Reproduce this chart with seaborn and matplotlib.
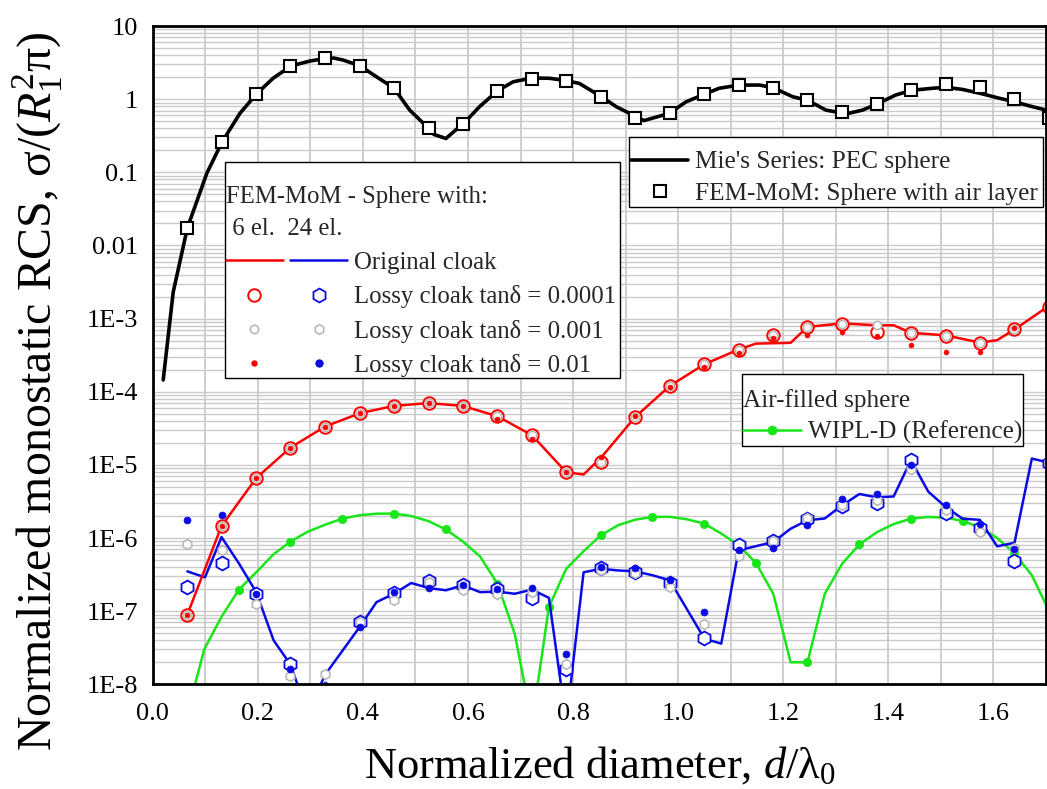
import numpy as np
import matplotlib
matplotlib.use("Agg")
import matplotlib.pyplot as plt
import seaborn as sns
from matplotlib.lines import Line2D
from matplotlib.patches import Rectangle
from matplotlib.legend_handler import HandlerTuple
from matplotlib.ticker import LogLocator, NullFormatter, MultipleLocator

# ---------------- data ----------------
# Mie's series: PEC sphere (black line)
mie_x = [0.020, 0.039, 0.066, 0.103, 0.132, 0.166, 0.197, 0.229, 0.263, 0.299, 0.329, 0.345, 0.362,
         0.394, 0.426, 0.459, 0.489, 0.525, 0.535, 0.558, 0.575, 0.591, 0.622, 0.656, 0.686, 0.722,
         0.755, 0.788, 0.812, 0.854, 0.882, 0.935, 0.983, 1.015, 1.050, 1.078, 1.116, 1.155, 1.181,
         1.218, 1.247, 1.281, 1.320, 1.351, 1.378, 1.414, 1.444, 1.484, 1.509, 1.541, 1.575, 1.611,
         1.641, 1.668, 1.700]
mie_y = [1.45e-4, 2.3e-3, 0.0174, 0.097, 0.26, 0.64, 1.17, 1.93, 2.84, 3.32, 3.61, 3.65, 3.43,
         2.87, 2.02, 1.42, 0.71, 0.40, 0.33, 0.29, 0.37, 0.46, 0.79, 1.30, 1.73, 1.95,
         1.93, 1.79, 1.64, 1.08, 0.79, 0.51, 0.64, 0.92, 1.17, 1.41, 1.56, 1.56, 1.43,
         1.08, 0.96, 0.71, 0.63, 0.71, 0.857, 1.14, 1.32, 1.41, 1.45, 1.36, 1.20, 1.03,
         0.92, 0.81, 0.71]

# FEM-MoM sample positions (d/lambda0)
fem_x = [0.066, 0.131, 0.197, 0.262, 0.328, 0.394, 0.459, 0.525, 0.590, 0.656, 0.722, 0.787, 0.853,
         0.918, 0.984, 1.050, 1.115, 1.181, 1.246, 1.312, 1.378, 1.443, 1.509, 1.574, 1.640, 1.706]

# FEM-MoM: sphere with air layer (squares)
air_layer = [0.0173, 0.261, 1.17, 2.84, 3.61, 2.87, 1.42, 0.403, 0.461, 1.30, 1.90, 1.79, 1.08,
             0.546, 0.64, 1.17, 1.56, 1.43, 0.96, 0.673, 0.857, 1.32, 1.61, 1.48, 1.00, 0.56]

# 6 elements - original cloak (red line)
red_line_x = [0.066, 0.131, 0.197, 0.262, 0.328, 0.394, 0.459, 0.525, 0.590, 0.656, 0.722, 0.787,
              0.820, 0.853, 0.918, 0.984, 1.050, 1.115, 1.148, 1.214, 1.246, 1.312, 1.378, 1.410,
              1.443, 1.509, 1.574, 1.607, 1.640, 1.706]
red_line_y = [9.0e-8, 1.46e-6, 6.6e-6, 1.72e-5, 3.34e-5, 5.08e-5, 6.4e-5, 7.0e-5, 6.4e-5, 4.62e-5,
              2.54e-5, 7.9e-6, 7.4e-6, 1.25e-5, 4.5e-5, 1.2e-4, 2.38e-4, 3.78e-4, 4.55e-4, 4.66e-4,
              7.7e-4, 8.6e-4, 8.1e-4, 8.1e-4, 6.4e-4, 5.9e-4, 4.7e-4, 5.07e-4, 7.1e-4, 1.5e-3]
# 6 elements - lossy cloaks
red_tan1e4 = [9.0e-8, 1.46e-6, 6.6e-6, 1.72e-5, 3.34e-5, 5.08e-5, 6.4e-5, 7.03e-5, 6.4e-5, 4.62e-5,
              2.54e-5, 7.9e-6, 1.09e-5, 4.5e-5, 1.2e-4, 2.38e-4, 3.78e-4, 6.05e-4, 7.7e-4, 8.57e-4,
              6.58e-4, 6.37e-4, 5.86e-4, 4.66e-4, 7.1e-4, 1.42e-3]
red_tan1e3 = [9.0e-8, 1.46e-6, 6.6e-6, 1.72e-5, 3.34e-5, 5.08e-5, 6.4e-5, 7.03e-5, 6.4e-5, 4.62e-5,
              2.54e-5, 7.9e-6, 1.09e-5, 4.5e-5, 1.2e-4, 2.38e-4, 3.78e-4, 6.05e-4, 7.7e-4, 8.57e-4,
              8.1e-4, 6.37e-4, 5.7e-4, 4.66e-4, 7.1e-4, 1.42e-3]
red_tan1e2 = [9.0e-8, 1.46e-6, 6.6e-6, 1.72e-5, 3.34e-5, 5.08e-5, 6.4e-5, 7.03e-5, 6.3e-5, 4.3e-5,
              2.29e-5, 7.9e-6, 1.3e-5, 4.7e-5, 1.16e-4, 2.2e-4, 3.4e-4, 5.4e-4, 6.0e-4, 6.5e-4,
              5.8e-4, 4.3e-4, 3.5e-4, 3.5e-4, 7.5e-4, 1.4e-3]

# 24 elements - original cloak (blue line)
blue_line_x = [0.066, 0.0995, 0.131, 0.164, 0.197, 0.230, 0.262, 0.295, 0.328, 0.394, 0.426, 0.459,
               0.492, 0.525, 0.558, 0.590, 0.623, 0.656, 0.689, 0.722, 0.754, 0.787, 0.820, 0.853,
               0.886, 0.918, 0.951, 0.984, 1.050, 1.082, 1.115, 1.181, 1.214, 1.246, 1.279, 1.312,
               1.345, 1.378, 1.410, 1.443, 1.476, 1.509, 1.541, 1.574, 1.607, 1.640, 1.673, 1.706]
blue_line_y = [3.5e-7, 2.9e-7, 1.03e-6, 4.5e-7, 1.82e-7, 4.0e-8, 1.87e-8, 4.0e-9, 1.35e-8, 6.1e-8,
               1.33e-7, 1.73e-7, 2.43e-7, 2.07e-7, 1.93e-7, 2.26e-7, 1.82e-7, 1.85e-7, 1.73e-7, 1.97e-7,
               1.52e-7, 3.0e-9, 3.4e-7, 3.8e-7, 3.6e-7, 3.5e-7, 3.1e-7, 2.64e-7, 4.2e-8, 3.6e-8,
               6.8e-7, 8.8e-7, 1.34e-6, 1.75e-6, 1.85e-6, 2.8e-6, 4.0e-6, 3.6e-6, 3.7e-6, 1.16e-5,
               4.3e-6, 2.66e-6, 1.84e-6, 1.77e-6, 7.7e-7, 8.6e-7, 1.22e-5, 1.07e-5]
# 24 elements - lossy cloaks
blue_tan1e4 = [2.12e-7, 4.5e-7, 1.74e-7, 1.87e-8, 8.5e-9, 7.2e-8, 1.78e-7, 2.59e-7, 2.26e-7, 1.98e-7,
               1.52e-7, 1.63e-8, 3.9e-7, 3.4e-7, 2.4e-7, 4.3e-8, 8.0e-7, 9.2e-7, 1.8e-6, 2.75e-6,
               3.0e-6, 1.18e-5, 2.2e-6, 1.35e-6, 4.8e-7, 1.07e-5]
blue_tan1e3 = [8.3e-7, 6.8e-7, 1.27e-7, 1.3e-8, 1.4e-8, 7.0e-8, 1.44e-7, 2.5e-7, 1.93e-7, 1.7e-7,
               1.8e-7, 1.87e-8, 3.6e-7, 3.3e-7, 2.15e-7, 6.7e-8, 5.6e-7, 9.2e-7, 1.9e-6, 2.8e-6,
               3.3e-6, 8.7e-6, 2.45e-6, 1.2e-6, 7.3e-7, 1.1e-5]
blue_tan1e2 = [1.79e-6, 2.05e-6, 1.74e-7, 1.6e-8, 5.0e-9, 6.0e-8, 1.8e-7, 2.07e-7, 2.3e-7, 1.98e-7,
               2.1e-7, 2.6e-8, 4.0e-7, 3.85e-7, 2.7e-7, 9.6e-8, 6.8e-7, 7.2e-7, 1.53e-6, 3.4e-6,
               4.0e-6, 1.0e-5, 2.8e-6, 1.56e-6, 7.0e-7, 1.1e-5]

# WIPL-D reference: air-filled sphere (green)
wipl_x = [0.066, 0.098, 0.131, 0.164, 0.197, 0.230, 0.262, 0.295, 0.328, 0.361, 0.394, 0.426, 0.459,
          0.492, 0.525, 0.558, 0.590, 0.623, 0.656, 0.689, 0.722, 0.754, 0.787, 0.820, 0.853, 0.886,
          0.918, 0.951, 0.984, 1.017, 1.050, 1.082, 1.115, 1.148, 1.181, 1.214, 1.246, 1.279, 1.312,
          1.345, 1.378, 1.410, 1.443, 1.476, 1.509, 1.542, 1.574, 1.607, 1.640, 1.673, 1.706]
wipl_y = [4.0e-9, 3.0e-8, 8.4e-8, 1.97e-7, 3.4e-7, 6.0e-7, 8.9e-7, 1.22e-6, 1.52e-6, 1.84e-6, 2.05e-6,
          2.15e-6, 2.16e-6, 2.0e-6, 1.7e-6, 1.31e-6, 9.0e-7, 5.6e-7, 2.38e-7, 4.9e-8, 3.0e-9, 1.14e-7,
          3.8e-7, 6.6e-7, 1.09e-6, 1.5e-6, 1.78e-6, 1.94e-6, 1.95e-6, 1.8e-6, 1.57e-6, 1.15e-6, 8.0e-7,
          4.56e-7, 1.73e-7, 2.0e-8, 2.0e-8, 1.73e-7, 4.45e-7, 8.2e-7, 1.2e-6, 1.55e-6, 1.84e-6,
          1.94e-6, 1.9e-6, 1.71e-6, 1.4e-6, 1.0e-6, 6.2e-7, 3.1e-7, 1.0e-7]

x_ticks = [0.0, 0.2, 0.4, 0.6, 0.8, 1.0, 1.2, 1.4, 1.6]
x_tick_labels = ["0.0", "0.2", "0.4", "0.6", "0.8", "1.0", "1.2", "1.4", "1.6"]
y_ticks = [1e-8, 1e-7, 1e-6, 1e-5, 1e-4, 1e-3, 1e-2, 1e-1, 1, 10]
y_tick_labels = ["1E-8", "1E-7", "1E-6", "1E-5", "1E-4", "1E-3", "0.01", "0.1", "1", "10"]

# ---------------- style ----------------
sns.set_theme(style="white")
plt.rcParams['font.family'] = ['Liberation Serif', 'DejaVu Serif']
plt.rcParams['mathtext.fontset'] = 'custom'
plt.rcParams['mathtext.rm'] = 'Liberation Serif'
plt.rcParams['mathtext.it'] = 'Liberation Serif:italic'

RED = '#ff0000'
BLUE = '#0a0ae6'
GRAY = '#b8b8b8'
GREEN = '#18e618'
GRID = '#cacaca'
LEG_FS = 18.2
LEG2_FS = 17.8

fig = plt.figure(figsize=(10.47, 7.89), dpi=100)
ax = fig.add_axes([0.14585, 0.1327, 0.8532, 0.8343])
ax.set_yscale('log')


def draw(x, y, **kw):
    sns.lineplot(x=x, y=y, ax=ax, estimator=None, errorbar=None, sort=False,
                 legend=False, **kw)


# green reference
draw(wipl_x, wipl_y, color=GREEN, linewidth=1.8, marker='o', markersize=6,
     markerfacecolor=GREEN, markeredgecolor=GREEN, markeredgewidth=0.5,
     markevery=slice(3, None, 3), zorder=3)

# blue: 24 elements
draw(blue_line_x, blue_line_y, color=BLUE, linewidth=1.8, zorder=4)
draw(fem_x, blue_tan1e4, color=BLUE, linestyle='none', marker='h', markersize=10,
     markerfacecolor='white', markeredgecolor=BLUE, markeredgewidth=1.3, zorder=5)
draw(fem_x, blue_tan1e3, color=GRAY, linestyle='none', marker='h', markersize=7,
     markerfacecolor='white', markeredgecolor=GRAY, markeredgewidth=1.2, zorder=5)
draw(fem_x, blue_tan1e2, color=BLUE, linestyle='none', marker='o', markersize=5,
     markerfacecolor=BLUE, markeredgecolor=BLUE, markeredgewidth=0.5, zorder=5)

# red: 6 elements
draw(red_line_x, red_line_y, color=RED, linewidth=1.8, zorder=6)
draw(fem_x, red_tan1e4, color=RED, linestyle='none', marker='o', markersize=9,
     markerfacecolor='white', markeredgecolor=RED, markeredgewidth=1.4, zorder=7)
draw(fem_x, red_tan1e3, color=GRAY, linestyle='none', marker='o', markersize=6,
     markerfacecolor='white', markeredgecolor=GRAY, markeredgewidth=1.2, zorder=7)
draw(fem_x, red_tan1e2, color=RED, linestyle='none', marker='o', markersize=3.6,
     markerfacecolor=RED, markeredgecolor=RED, markeredgewidth=0.4, zorder=7)

# black: PEC sphere
draw(mie_x, mie_y, color='black', linewidth=2.6, zorder=8)
draw(fem_x, air_layer, color='black', linestyle='none', marker='s', markersize=8.5,
     markerfacecolor='white', markeredgecolor='black', markeredgewidth=1.5, zorder=9)

# ---------------- axes ----------------
ax.set_xlim(0, 1.7)
ax.set_ylim(1e-8, 10)
ax.set_xticks(x_ticks, x_tick_labels)
ax.xaxis.set_minor_locator(MultipleLocator(0.1))
ax.set_yticks(y_ticks, y_tick_labels)
ax.yaxis.set_minor_locator(LogLocator(base=10, subs=np.arange(2, 10), numticks=100))
ax.yaxis.set_minor_formatter(NullFormatter())

ax.tick_params(axis='both', which='major', direction='in', length=9, width=1.8,
               labelsize=19, colors='black')
ax.tick_params(axis='both', which='minor', direction='in', length=5, width=1.6)
ax.tick_params(axis='x', which='major', pad=13.5)
ax.tick_params(axis='y', which='major', pad=10.5)
ax.tick_params(top=False, right=False, which='both')

ax.grid(True, axis='x', which='both', color=GRID, linewidth=1.3)
ax.grid(True, axis='y', which='both', color=GRID, linewidth=1.0)
ax.set_axisbelow(True)
for s in ax.spines.values():
    s.set_linewidth(2.0)
    s.set_color('black')
    s.set_zorder(30)

ax.set_xlabel(r"Normalized diameter, $d$/$\mathregular{λ_0}$", fontsize=32, color='black')
ax.set_ylabel(r"Normalized monostatic RCS, σ/($R_1^2$π)", fontsize=34.5, color='black')
ax.xaxis.set_label_coords(0.5007, -0.091)
ax.yaxis.set_label_coords(-0.098, 0.445)

# ---------------- legend boxes (axes fraction) ----------------
for (x0, y0, x1, y1) in [(0.5335, 0.7246, 0.9963, 0.8309),
                         (0.0809, 0.4653, 0.5231, 0.7934),
                         (0.6594, 0.3620, 0.9746, 0.4714)]:
    ax.add_patch(Rectangle((x0, y0), x1 - x0, y1 - y0, transform=ax.transAxes,
                           facecolor='white', edgecolor='black', linewidth=1.0,
                           zorder=15, clip_on=False))

leg_kw = dict(frameon=False, borderaxespad=0, borderpad=0,
              loc='upper left', handletextpad=0.27)

h_mie = Line2D([], [], color='black', linewidth=2.6)
h_sq = Line2D([], [], color='black', linestyle='none', marker='s', markersize=8.5,
              markerfacecolor='white', markeredgewidth=1.5)
leg1 = ax.legend([h_mie, h_sq], ["Mie's Series: PEC sphere", "FEM-MoM: Sphere with air layer"],
                 bbox_to_anchor=(0.5351, 0.8106), handlelength=2.28, labelspacing=0.34,
                 fontsize=LEG_FS, **leg_kw)
leg1.set_zorder(20)
ax.add_artist(leg1)

h_red = Line2D([], [], color=RED, linewidth=1.8)
h_blue = Line2D([], [], color=BLUE, linewidth=1.8)
h_rc = Line2D([], [], color=RED, linestyle='none', marker='o', markersize=9,
              markerfacecolor='white', markeredgewidth=1.4)
h_bh = Line2D([], [], color=BLUE, linestyle='none', marker='h', markersize=10,
              markerfacecolor='white', markeredgewidth=1.3)
h_gc = Line2D([], [], color=GRAY, linestyle='none', marker='o', markersize=6,
              markerfacecolor='white', markeredgewidth=1.2)
h_gh = Line2D([], [], color=GRAY, linestyle='none', marker='h', markersize=7,
              markerfacecolor='white', markeredgewidth=1.2)
h_rd = Line2D([], [], color=RED, linestyle='none', marker='o', markersize=3.6)
h_bd = Line2D([], [], color=BLUE, linestyle='none', marker='o', markersize=5)
leg2 = ax.legend([(h_red, h_blue), (h_rc, h_bh), (h_gc, h_gh), (h_rd, h_bd)],
                 ["Original cloak", "Lossy cloak tanδ = 0.0001",
                  "Lossy cloak tanδ = 0.001", "Lossy cloak tanδ = 0.01"],
                 handler_map={tuple: HandlerTuple(ndivide=None, pad=0.3)},
                 title="FEM-MoM - Sphere with:\n 6 el.  24 el.", title_fontsize=LEG2_FS,
                 alignment='left', bbox_to_anchor=(0.0821, 0.757), handlelength=4.9,
                 labelspacing=0.46, fontsize=LEG2_FS, **leg_kw)
leg2.get_title().set_linespacing(1.6)
leg2.set_zorder(20)
ax.add_artist(leg2)

h_g = Line2D([], [], color=GREEN, linewidth=1.8, marker='o', markersize=6)
leg3 = ax.legend([h_g], ["WIPL-D (Reference)"], title="Air-filled sphere", title_fontsize=LEG_FS,
                 alignment='left', bbox_to_anchor=(0.6605, 0.4486), handlelength=2.3,
                 labelspacing=0.34, fontsize=LEG_FS, **leg_kw)
leg3.set_zorder(20)

fig.savefig("out.png", dpi=100)
